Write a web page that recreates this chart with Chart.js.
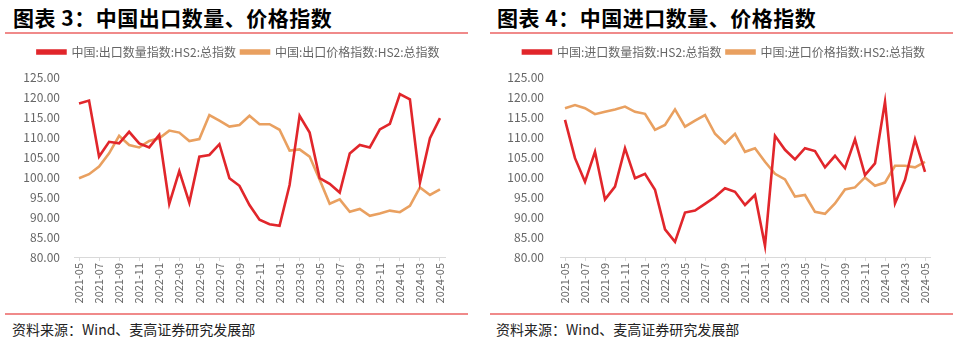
<!DOCTYPE html>
<html>
<head>
<meta charset="utf-8">
<script src="https://cdn.jsdelivr.net/npm/chart.js@4"></script>
<style>
    body { margin: 0; width: 963px; height: 344px; background: #fff; position: relative; overflow: hidden;
           font-family: "Noto Sans CJK SC", "Noto Sans", sans-serif; }
    .title { position: absolute; top: 2px; font-size: 21px; font-weight: 700; color: #000;
             white-space: nowrap; letter-spacing: 0.5px; }
    .rule { position: absolute; height: 2px; background: #f08a8a; }
    .source { position: absolute; top: 319px; font-size: 14px; color: #222; white-space: nowrap; }
    .box { position: absolute; top: 35px; height: 277px; }
</style>
</head>
<body>
<div class="title" style="left:13px">图表 3：中国出口数量、价格指数</div>
<div class="rule" style="left:5px; width:463px; top:32px"></div>
<div class="box" style="left:0; width:475px"><canvas id="exportChart"></canvas></div>
<div class="rule" style="left:5px; width:463px; top:313px"></div>
<div class="source" style="left:12px">资料来源：Wind、麦高证券研究发展部</div>

<div class="title" style="left:497px">图表 4：中国进口数量、价格指数</div>
<div class="rule" style="left:490px; width:463px; top:32px"></div>
<div class="box" style="left:485px; width:478px"><canvas id="importChart"></canvas></div>
<div class="rule" style="left:490px; width:463px; top:313px"></div>
<div class="source" style="left:496px">资料来源：Wind、麦高证券研究发展部</div>

<script>
// months 2021-05 .. 2024-05
const months = [
    '2021-05', '2021-06', '2021-07', '2021-08', '2021-09', '2021-10', '2021-11', '2021-12',
    '2022-01', '2022-02', '2022-03', '2022-04', '2022-05', '2022-06', '2022-07', '2022-08',
    '2022-09', '2022-10', '2022-11', '2022-12', '2023-01', '2023-02', '2023-03', '2023-04',
    '2023-05', '2023-06', '2023-07', '2023-08', '2023-09', '2023-10', '2023-11', '2023-12',
    '2024-01', '2024-02', '2024-03', '2024-04', '2024-05'
];

const exportQty = [118.4, 119.1, 105.1, 108.8, 108.4, 111.3, 108.4, 107.4, 110.5, 93.3, 101.5, 93.6,
    105.1, 105.5, 108.2, 99.7, 97.8, 93.0, 89.3, 88.2, 87.8, 98.0, 115.3, 111.1, 99.7, 98.3, 96.1,
    105.9, 108.0, 107.4, 111.9, 113.3, 120.7, 119.4, 98.6, 109.7, 114.7];
const exportPrice = [99.7, 100.7, 102.6, 105.9, 110.3, 108.0, 107.4, 109.0, 109.7, 111.6, 111.1, 109.0,
    109.5, 115.5, 114.1, 112.6, 113.0, 115.3, 113.2, 113.2, 111.8, 106.6, 106.9, 105.1, 99.3, 93.3, 94.4,
    91.3, 92.0, 90.3, 90.9, 91.6, 91.2, 92.8, 97.4, 95.5, 96.9];

const importQty = [114.3, 104.7, 98.8, 106.3, 94.4, 97.6, 107.2, 99.7, 100.8, 96.8, 86.9, 83.8,
    91.1, 91.6, 93.3, 95.0, 97.2, 96.3, 93.0, 95.5, 82.8, 110.3, 106.8, 104.4, 107.2, 106.5, 102.4,
    105.3, 102.2, 109.4, 100.5, 103.4, 118.8, 93.4, 99.3, 109.4, 101.3];
const importPrice = [117.2, 118.0, 117.2, 115.7, 116.3, 116.9, 117.6, 116.3, 115.8, 111.8, 113.0, 116.9,
    112.6, 114.1, 115.5, 110.8, 108.4, 110.8, 106.3, 107.2, 103.8, 100.8, 99.4, 95.1, 95.5, 91.3, 90.8,
    93.4, 96.9, 97.4, 99.9, 97.8, 98.6, 102.8, 102.8, 102.4, 103.8];

const RED = '#e1262b';
const ORANGE = '#e9a060';
const FONT = '"Noto Sans CJK SC", "Noto Sans", sans-serif';

// pin the legend box height so the plot area starts where the reference does,
// and slide the legend sideways so it sits centred over the whole panel
const legendPlace = {
    id: 'legendPlace',
    beforeInit(chart) {
        const fit = chart.legend.fit;
        chart.legend.fit = function () {
            fit.bind(chart.legend)();
            this.height = 36;
        };
    },
    afterLayout(chart, args, opts) {
        chart.legend.left += opts.shift;
        chart.legend.right += opts.shift;
    }
};

function makeChart(id, qty, price, qtyLabel, priceLabel, yWidth, yPad, rightPad, shift) {
    const ctx = document.getElementById(id);
    return new Chart(ctx.getContext('2d'), {
        type: 'line',
        data: {
            labels: months,
            datasets: [
                { label: qtyLabel, data: qty, borderColor: RED, backgroundColor: RED,
                  borderWidth: 2.6, pointRadius: 0, tension: 0 },
                { label: priceLabel, data: price, borderColor: ORANGE, backgroundColor: ORANGE,
                  borderWidth: 2.6, pointRadius: 0, tension: 0 }
            ]
        },
        options: {
            responsive: true,
            maintainAspectRatio: false,
            animation: false,
            layout: { padding: { left: 0, right: rightPad, top: 6, bottom: 0 } },
            plugins: {
                tooltip: { enabled: false },
                legendPlace: { shift: shift },
                legend: {
                    position: 'top',
                    labels: {
                        boxWidth: 28, boxHeight: 3, padding: 5,
                        color: '#666', font: { family: FONT, size: 12 }
                    }
                }
            },
            scales: {
                x: {
                    offset: true,
                    grid: { drawOnChartArea: false, tickLength: 4, color: '#d9d9d9' },
                    border: { color: '#d9d9d9' },
                    afterFit(scale) { scale.height = 55; },
                    ticks: {
                        autoSkip: false, maxRotation: 90, minRotation: 90, padding: 2,
                        color: '#666', font: { family: FONT, size: 11 },
                        callback(v, i) { return i % 2 === 0 ? months[i] : null; }
                    }
                },
                y: {
                    min: 80, max: 125,
                    grid: { display: false, drawTicks: false },
                    border: { display: false },
                    afterFit(scale) { scale.width = yWidth; },
                    ticks: {
                        stepSize: 5, padding: yPad,
                        color: '#666', font: { family: FONT, size: 12 },
                        callback(v) { return v.toFixed(2); }
                    }
                }
            }
        },
        plugins: [legendPlace]
    });
}

makeChart('exportChart', exportQty, exportPrice,
    '中国:出口数量指数:HS2:总指数', '中国:出口价格指数:HS2:总指数', 74, 14, 30, 16);
makeChart('importChart', importQty, importPrice,
    '中国:进口数量指数:HS2:总指数', '中国:进口价格指数:HS2:总指数', 75, 16, 33, 16.5);
</script>
</body>
</html>
